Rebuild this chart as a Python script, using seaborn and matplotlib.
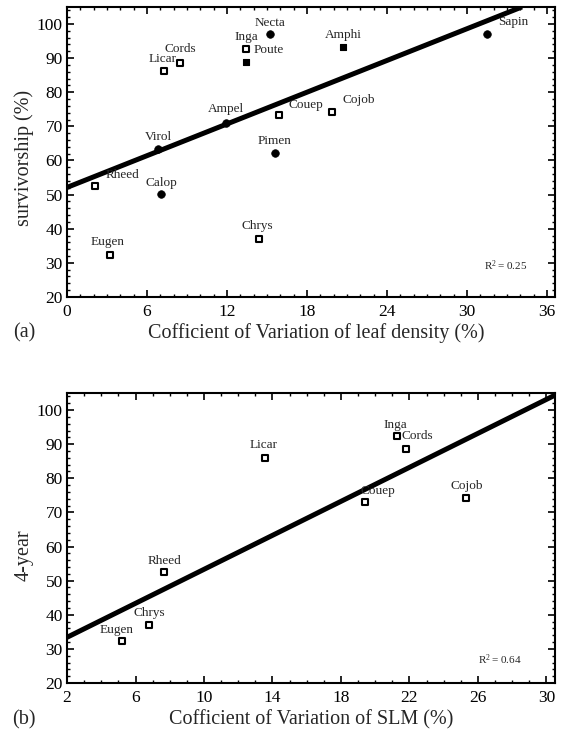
import matplotlib
matplotlib.use("Agg")
import matplotlib.pyplot as plt
import seaborn as sns
import pandas as pd
from matplotlib.ticker import MultipleLocator

# ---------------- data ----------------
# panel (a): CV of leaf density vs survivorship
a_species = ["Necta", "Sapin", "Ampel", "Virol", "Pimen", "Calop",
             "Poute", "Amphi",
             "Inga", "Cords", "Licar", "Couep", "Cojob", "Rheed", "Chrys", "Eugen"]
a_cv = [15.2, 31.5, 11.9, 6.85, 15.6, 7.07,
        13.4, 20.7,
        13.45, 8.48, 7.28, 15.9, 19.9, 2.12, 14.4, 3.26]
a_surv = [97.0, 97.2, 71.1, 63.3, 62.2, 50.1,
          88.75, 93.25,
          92.6, 88.7, 86.1, 73.2, 74.3, 52.5, 37.1, 32.2]
a_group = ["circle"] * 6 + ["filled_square"] * 2 + ["open_square"] * 8
a_fit_intercept = 52.1
a_fit_slope = 1.55
a_r2 = "0.25"

# panel (b): CV of SLM vs 4-year survivorship
b_species = ["Inga", "Cords", "Licar", "Couep", "Cojob", "Rheed", "Chrys", "Eugen"]
b_cv = [21.28, 21.81, 13.56, 19.38, 25.32, 7.67, 6.80, 5.19]
b_surv = [92.5, 88.6, 86.0, 73.2, 74.2, 52.5, 37.1, 32.2]
b_fit_intercept_at2 = 33.4
b_fit_slope = 2.49
b_r2 = "0.64"

a_xticks = [0, 6, 12, 18, 24, 30, 36]
b_xticks = [2, 6, 10, 14, 18, 22, 26, 30]
yticks = [20, 30, 40, 50, 60, 70, 80, 90, 100]

# ---------------- styling ----------------
sns.set_theme(style="ticks")
plt.rcParams["font.family"] = ["Liberation Serif", "DejaVu Serif"]
plt.rcParams["mathtext.fontset"] = "custom"
plt.rcParams["mathtext.rm"] = "Liberation Serif"
plt.rcParams["mathtext.it"] = "Liberation Serif:italic"
plt.rcParams["axes.linewidth"] = 1.5

# label offsets in points (dx, dy, ha)
a_off = {
    "Necta": (0, 8, "center"), "Sapin": (8, 8, "left"), "Ampel": (0, 9.5, "center"),
    "Virol": (0, 9, "center"), "Pimen": (0, 8.4, "center"), "Calop": (0, 8.4, "center"),
    "Poute": (5.5, 9, "left"), "Amphi": (0, 9, "center"), "Inga": (0, 8.5, "center"),
    "Cords": (0, 9.5, "center"), "Licar": (-1, 8.6, "center"), "Couep": (7, 7.2, "left"),
    "Cojob": (7, 8.2, "left"), "Rheed": (7.5, 7.7, "left"), "Chrys": (-1, 8.9, "center"),
    "Eugen": (-2, 9.4, "center"),
}
b_off = {
    "Inga": (-1.5, 8, "center"), "Cords": (-3, 9, "left"), "Licar": (-1, 8.9, "center"),
    "Couep": (-3, 7.4, "left"), "Cojob": (0, 8.4, "center"), "Rheed": (0, 8, "center"),
    "Chrys": (0, 8.4, "center"), "Eugen": (-3.6, 8.4, "center"),
}

fig = plt.figure(figsize=(5.68, 7.35), dpi=100)
ax1 = fig.add_axes([0.118, 0.596, 0.859, 0.3946])
ax2 = fig.add_axes([0.118, 0.0707, 0.859, 0.3946])

dfa = pd.DataFrame({"species": a_species, "cv": a_cv, "surv": a_surv, "group": a_group})
dfb = pd.DataFrame({"species": b_species, "cv": b_cv, "surv": b_surv})

# fitted lines (drawn underneath points)
ax1.axline((0, a_fit_intercept), slope=a_fit_slope, color="black", lw=3.6, zorder=2,
           solid_capstyle="butt")
ax2.axline((2, b_fit_intercept_at2), slope=b_fit_slope, color="black", lw=3.6, zorder=2,
           solid_capstyle="butt")

styles = {
    "circle": dict(marker="o", s=30, color="black", edgecolor="black", linewidth=0.5),
    "filled_square": dict(marker="s", s=22, color="black", edgecolor="black", linewidth=0.8),
    "open_square": dict(marker="s", s=18, color="white", edgecolor="black", linewidth=1.5),
}
for g, kw in styles.items():
    sub = dfa[dfa["group"] == g]
    sns.scatterplot(data=sub, x="cv", y="surv", ax=ax1, legend=False, zorder=3, **kw)
sns.scatterplot(data=dfb, x="cv", y="surv", ax=ax2, legend=False, zorder=3,
                **styles["open_square"])

for _, r in dfa.iterrows():
    dx, dy, ha = a_off[r["species"]]
    ax1.annotate(r["species"], (r["cv"], r["surv"]), xytext=(dx, dy),
                 textcoords="offset points", ha=ha, va="center", fontsize=9.5, zorder=4)
for _, r in dfb.iterrows():
    dx, dy, ha = b_off[r["species"]]
    ax2.annotate(r["species"], (r["cv"], r["surv"]), xytext=(dx, dy),
                 textcoords="offset points", ha=ha, va="center", fontsize=9.5, zorder=4)

ax1.text(32.9, 29.1, "R$^2$\u2009=\u2009" + a_r2, ha="center", va="center", fontsize=8)
ax2.text(27.3, 26.8, "R$^2$\u2009=\u2009" + b_r2, ha="center", va="center", fontsize=8)

ax1.set_xlim(0, 36.6)
ax2.set_xlim(2, 30.5)
for ax, xt in ((ax1, a_xticks), (ax2, b_xticks)):
    ax.set_ylim(20, 105)
    ax.set_xticks(xt)
    ax.set_yticks(yticks)
    ax.xaxis.set_minor_locator(MultipleLocator(1))
    ax.yaxis.set_minor_locator(MultipleLocator(2))
    ax.tick_params(which="both", direction="in", top=True, right=True, colors="black",
                   labelsize=12.5)
    ax.tick_params(which="major", length=5, width=1.2)
    ax.tick_params(axis="x", which="major", pad=5)
    ax.tick_params(axis="y", which="major", pad=3)
    ax.tick_params(which="minor", length=2.5, width=1.0)
    for sp in ax.spines.values():
        sp.set_visible(True)
        sp.set_color("black")
        sp.set_linewidth(1.5)

ax1.set_xlabel("Cofficient of Variation of leaf density (%)", fontsize=14.5)
ax1.set_ylabel("survivorship (%)", fontsize=14.5)
ax2.set_xlabel("Cofficient of Variation of SLM (%)", fontsize=14.5)
ax2.set_ylabel("4-year", fontsize=14.5)
ax1.xaxis.set_label_coords(0.51, -0.09)
ax2.xaxis.set_label_coords(0.50, -0.093)
ax1.yaxis.set_label_coords(-0.067, 0.48)
ax2.yaxis.set_label_coords(-0.069, 0.44)

fig.text(24 / 568, 1 - 333 / 735, "(a)", ha="center", va="center", fontsize=14.5)
fig.text(24 / 568, 1 - 720 / 735, "(b)", ha="center", va="center", fontsize=14.5)

fig.savefig("out.png", dpi=100)
